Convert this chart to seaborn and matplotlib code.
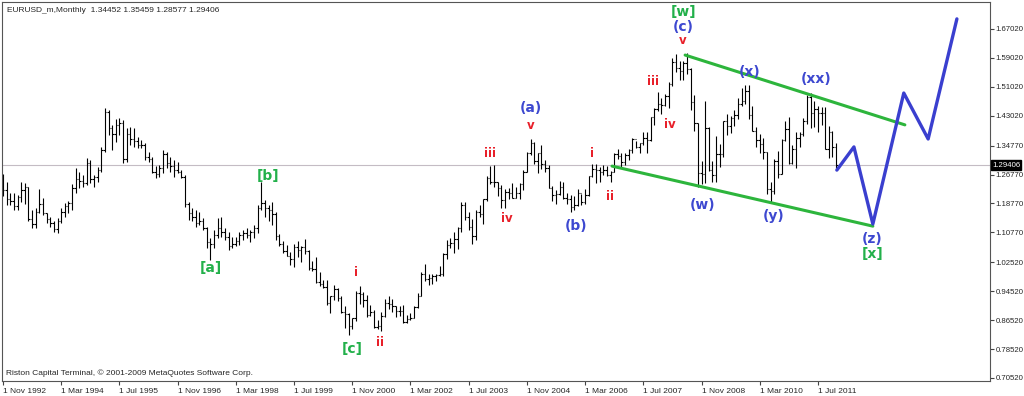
import numpy as np
import pandas as pd
import matplotlib
matplotlib.use("Agg")
import matplotlib.pyplot as plt
import seaborn as sns

# monthly EURUSD bars, 1 Nov 1992 .. 1 Dec 2011
months = pd.date_range("1992-11-01", "2011-12-01", freq="MS")

first_open = 1.240
highs = [
    1.268, 1.248,
    1.216, 1.216, 1.211, 1.246, 1.244, 1.234, 1.170, 1.174, 1.228, 1.202, 1.161, 1.151,  # 1993
    1.138, 1.147, 1.174, 1.188, 1.195, 1.241, 1.285, 1.276, 1.266, 1.313, 1.308, 1.266,  # 1994
    1.289, 1.345, 1.451, 1.446, 1.405, 1.421, 1.423, 1.418, 1.395, 1.400, 1.395, 1.372,  # 1995
    1.363, 1.354, 1.331, 1.317, 1.290, 1.294, 1.336, 1.331, 1.317, 1.308, 1.303, 1.280,  # 1996
    1.267, 1.193, 1.175, 1.170, 1.165, 1.147, 1.124, 1.092, 1.115, 1.147, 1.151, 1.119,  # 1997
    1.110, 1.096, 1.096, 1.110, 1.115, 1.119, 1.115, 1.128, 1.184, 1.248, 1.198, 1.184,  # 1998
    1.1905, 1.1630, 1.1040, 1.0850, 1.0720, 1.0530, 1.0770, 1.0830, 1.0700, 1.0890, 1.0600, 1.0300,  # 1999
    1.0400, 0.9990, 0.9760, 0.9760, 0.9330, 0.9630, 0.9530, 0.9320, 0.9050, 0.8850, 0.8700, 0.9460,  # 2000
    0.9590, 0.9440, 0.9340, 0.9080, 0.8940, 0.8660, 0.8870, 0.9240, 0.9320, 0.9230, 0.9040, 0.9050,  # 2001
    0.9060, 0.8790, 0.8840, 0.9030, 0.9390, 0.9990, 1.0200, 0.9930, 0.9940, 0.9930, 1.0140, 1.0500,  # 2002
    1.0870, 1.0930, 1.1080, 1.1230, 1.1930, 1.1930, 1.1650, 1.1460, 1.1690, 1.1840, 1.1990, 1.2640,  # 2003
    1.2900, 1.2930, 1.2480, 1.2390, 1.2280, 1.2300, 1.2440, 1.2330, 1.2440, 1.2810, 1.3310, 1.3670,  # 2004
    1.3580, 1.3260, 1.3480, 1.3090, 1.2940, 1.2370, 1.2240, 1.2500, 1.2470, 1.2160, 1.2120, 1.2090,  # 2005
    1.2290, 1.2150, 1.2290, 1.2640, 1.2980, 1.2980, 1.2880, 1.2930, 1.2900, 1.2780, 1.3260, 1.3370,  # 2006
    1.3270, 1.3260, 1.3380, 1.3680, 1.3600, 1.3550, 1.3850, 1.3850, 1.4280, 1.4530, 1.4970, 1.4800,  # 2007
    1.4890, 1.5230, 1.5900, 1.6020, 1.5820, 1.5810, 1.6038, 1.5630, 1.4870, 1.4090, 1.3040, 1.4720,  # 2008
    1.4000, 1.3050, 1.3740, 1.3510, 1.4170, 1.4340, 1.4300, 1.4450, 1.4780, 1.5070, 1.5140, 1.5140,  # 2009
    1.4580, 1.3980, 1.3810, 1.3700, 1.3310, 1.2470, 1.3110, 1.3330, 1.3670, 1.4160, 1.4280, 1.3500,  # 2010
    1.3860, 1.3860, 1.4250, 1.4880, 1.4940, 1.4700, 1.4580, 1.4550, 1.4550, 1.4010, 1.3870, 1.3546,  # 2011
]
lows = [
    1.207, 1.184,
    1.184, 1.170, 1.170, 1.193, 1.185, 1.138, 1.119, 1.119, 1.161, 1.156, 1.133, 1.124,
    1.110, 1.105, 1.133, 1.151, 1.161, 1.170, 1.216, 1.230, 1.234, 1.239, 1.243, 1.234,
    1.248, 1.276, 1.331, 1.377, 1.336, 1.359, 1.377, 1.299, 1.303, 1.349, 1.345, 1.340,
    1.340, 1.308, 1.303, 1.271, 1.257, 1.262, 1.271, 1.285, 1.276, 1.262, 1.271, 1.257,
    1.179, 1.142, 1.138, 1.124, 1.128, 1.115, 1.064, 1.032, 1.064, 1.092, 1.096, 1.087,
    1.059, 1.064, 1.069, 1.073, 1.087, 1.092, 1.082, 1.092, 1.106, 1.170, 1.151, 1.138,
    1.1290, 1.0880, 1.0700, 1.0520, 1.0420, 1.0180, 1.0120, 1.0390, 1.0250, 1.0480, 1.0040, 1.0010,
    0.9680, 0.9600, 0.9530, 0.9080, 0.8840, 0.9220, 0.9180, 0.8850, 0.8440, 0.8228, 0.8400, 0.8640,
    0.9090, 0.9010, 0.8750, 0.8770, 0.8440, 0.8400, 0.8350, 0.8730, 0.8960, 0.8890, 0.8750, 0.8760,
    0.8560, 0.8580, 0.8660, 0.8710, 0.9000, 0.9310, 0.9720, 0.9620, 0.9640, 0.9720, 0.9860, 0.9860,
    1.0340, 1.0650, 1.0500, 1.0620, 1.1100, 1.1420, 1.1150, 1.0770, 1.0860, 1.1500, 1.1320, 1.1950,
    1.2410, 1.2340, 1.2080, 1.1760, 1.1760, 1.1990, 1.2030, 1.2030, 1.2010, 1.2240, 1.2740, 1.3220,
    1.2980, 1.2730, 1.2840, 1.2760, 1.2300, 1.1950, 1.1870, 1.2120, 1.1990, 1.1870, 1.1640, 1.1700,
    1.1800, 1.1830, 1.1850, 1.2080, 1.2610, 1.2450, 1.2460, 1.2660, 1.2630, 1.2480, 1.2740, 1.3100,
    1.2870, 1.2930, 1.3090, 1.3280, 1.3410, 1.3270, 1.3500, 1.3260, 1.3600, 1.4050, 1.4440, 1.4360,
    1.4560, 1.4520, 1.5130, 1.5510, 1.5290, 1.5300, 1.5460, 1.4460, 1.3870, 1.2330, 1.2420, 1.2430,
    1.2770, 1.2470, 1.2460, 1.2880, 1.3150, 1.3760, 1.3830, 1.4020, 1.4200, 1.4570, 1.4640, 1.4220,
    1.3870, 1.3440, 1.3280, 1.3110, 1.2140, 1.1880, 1.2150, 1.2590, 1.2680, 1.3600, 1.2970, 1.2970,
    1.2860, 1.3430, 1.3750, 1.4080, 1.3970, 1.4000, 1.3840, 1.4050, 1.3370, 1.3140, 1.3150, 1.2858,
]
closes = [
    1.225, 1.200,
    1.195, 1.180, 1.205, 1.225, 1.232, 1.145, 1.130, 1.165, 1.185, 1.160, 1.145, 1.135,
    1.118, 1.140, 1.165, 1.180, 1.190, 1.230, 1.255, 1.250, 1.245, 1.300, 1.255, 1.260,
    1.280, 1.335, 1.440, 1.395, 1.380, 1.405, 1.410, 1.310, 1.380, 1.365, 1.360, 1.350,
    1.350, 1.315, 1.310, 1.275, 1.270, 1.285, 1.325, 1.300, 1.290, 1.280, 1.275, 1.260,
    1.185, 1.160, 1.150, 1.135, 1.140, 1.120, 1.080, 1.075, 1.100, 1.120, 1.110, 1.095,
    1.070, 1.075, 1.085, 1.100, 1.105, 1.100, 1.108, 1.120, 1.175, 1.190, 1.175, 1.170,
    1.1580, 1.0975, 1.0765, 1.0570, 1.0430, 1.0340, 1.0680, 1.0580, 1.0670, 1.0550, 1.0100, 1.0070,
    0.9710, 0.9650, 0.9570, 0.9120, 0.9330, 0.9520, 0.9260, 0.8870, 0.8830, 0.8500, 0.8710, 0.9390,
    0.9370, 0.9220, 0.8790, 0.8880, 0.8470, 0.8480, 0.8770, 0.9120, 0.9110, 0.9040, 0.8900, 0.8900,
    0.8600, 0.8690, 0.8720, 0.9020, 0.9330, 0.9920, 0.9780, 0.9820, 0.9870, 0.9890, 0.9920, 1.0490,
    1.0730, 1.0780, 1.0900, 1.1190, 1.1830, 1.1510, 1.1240, 1.0990, 1.1650, 1.1580, 1.1990, 1.2590,
    1.2470, 1.2480, 1.2310, 1.1970, 1.2200, 1.2180, 1.2030, 1.2180, 1.2420, 1.2760, 1.3260, 1.3550,
    1.3040, 1.3260, 1.2960, 1.2870, 1.2300, 1.2100, 1.2130, 1.2330, 1.2020, 1.1990, 1.1790, 1.1840,
    1.2160, 1.1920, 1.2120, 1.2630, 1.2820, 1.2790, 1.2760, 1.2810, 1.2670, 1.2760, 1.3250, 1.3200,
    1.3030, 1.3230, 1.3350, 1.3650, 1.3450, 1.3540, 1.3680, 1.3640, 1.4260, 1.4490, 1.4640, 1.4590,
    1.4860, 1.5180, 1.5790, 1.5610, 1.5550, 1.5760, 1.5600, 1.4670, 1.4090, 1.2730, 1.2700, 1.3970,
    1.2800, 1.2670, 1.3250, 1.3240, 1.4150, 1.4030, 1.4250, 1.4330, 1.4640, 1.4720, 1.5000, 1.4320,
    1.3870, 1.3630, 1.3510, 1.3290, 1.2290, 1.2230, 1.3050, 1.2680, 1.3630, 1.3930, 1.2990, 1.3380,
    1.3690, 1.3800, 1.4160, 1.4810, 1.4390, 1.4500, 1.4390, 1.4370, 1.3390, 1.3860, 1.3450, 1.2941,
]
last_price = 1.29406

ytick_values = [1.6702, 1.5902, 1.5102, 1.4302, 1.3477, 1.2677, 1.1877,
                1.1077, 1.0252, 0.9452, 0.8652, 0.7852, 0.7052]
ytick_labels = ["1.67020", "1.59020", "1.51020", "1.43020", "1.34770", "1.26770", "1.18770",
                "1.10770", "1.02520", "0.94520", "0.86520", "0.78520", "0.70520"]

# projected path and channel (bar index, price)
proj_x = [229.2, 233.9, 239.1, 247.6, 254.3, 262.2]
proj_y = [1.280, 1.344, 1.131, 1.493, 1.366, 1.698]
chan_top_x = [187.5, 247.9]
chan_top_y = [1.598, 1.405]
chan_bot_x = [167.4, 239.1]
chan_bot_y = [1.291, 1.125]

# wave labels
GREEN, BLUE, RED = "#22b04a", "#3d48d0", "#e8202a"
lab_text = ["[w]", "(c)", "v", "(x)", "(xx)", "(a)", "v", "iii", "i", "iii", "iv", "ii",
            "iv", "(b)", "[b]", "[a]", "[c]", "i", "ii", "(w)", "(y)", "(z)", "[x]"]
lab_x = [187.2, 186.9, 186.9, 205.3, 223.5, 145.1, 145.1, 133.9, 161.9, 178.7, 183.3, 166.8,
         138.5, 157.5, 72.8, 57.2, 95.9, 97.0, 103.6, 192.4, 211.7, 238.9, 238.9]
lab_y = [1.717, 1.676, 1.637, 1.551, 1.532, 1.452, 1.402, 1.325, 1.327, 1.526, 1.407, 1.206,
         1.145, 1.125, 1.264, 1.009, 0.785, 0.998, 0.802, 1.184, 1.153, 1.090, 1.048]
lab_color = [GREEN, BLUE, RED, BLUE, BLUE, BLUE, RED, RED, RED, RED, RED, RED,
             RED, BLUE, GREEN, GREEN, GREEN, RED, RED, BLUE, BLUE, BLUE, GREEN]

sns.set_style("white")
plt.rcParams['font.family'] = ['Liberation Sans', 'DejaVu Sans']

fig = plt.figure(figsize=(10.24, 3.96), dpi=100)
ax = fig.add_axes([2 / 1024, 15 / 396, 988 / 1024, 379 / 396])

idx = np.arange(len(closes))
opens = [first_open] + closes[:-1]

ax.axhline(last_price, color="#c4bcc4", lw=0.8, zorder=0)

# OHLC bars
ax.vlines(idx, lows, highs, color="black", lw=0.8)
ax.hlines(opens, idx - 0.4, idx, color="black", lw=0.8)
ax.hlines(closes, idx, idx + 0.4, color="black", lw=0.8)

sns.lineplot(x=chan_top_x, y=chan_top_y, color="#2db53c", lw=2.2, estimator=None, sort=False, ax=ax)
sns.lineplot(x=chan_bot_x, y=chan_bot_y, color="#2db53c", lw=2.2, estimator=None, sort=False, ax=ax)
sns.lineplot(x=proj_x, y=proj_y, color="#3a3fcf", lw=2.4, estimator=None, sort=False, ax=ax)

for t, x, y, c in zip(lab_text, lab_x, lab_y, lab_color):
    fs = 8.5 if c == RED else 10
    ax.text(x, y, t, color=c, fontsize=fs, fontweight="bold", ha="center", va="center",
            family="DejaVu Sans")

ax.set_xlim(-0.275, 271.3)
ax.set_ylim(0.6969, 1.7447)

ax.set_xticks(idx[::16])
ax.set_xticklabels([f"1 {m:%b %Y}" for m in months[::16]], ha="left")
ax.yaxis.tick_right()
ax.set_yticks(ytick_values)
ax.set_yticklabels(ytick_labels)
ax.tick_params(axis="x", labelsize=6, length=3, width=0.8, color="#444444", pad=2)
ax.tick_params(axis="y", labelsize=5.6, length=3, width=0.8, color="#444444", pad=1)
ax.tick_params(bottom=True, right=True, left=False, top=False)
for s in ax.spines.values():
    s.set_color("#555555")
    s.set_linewidth(0.8)

ax.text(1.0 + 2 / 988, last_price, f"{last_price:.5f}", transform=ax.get_yaxis_transform(),
        color="white", fontsize=5.6, ha="left", va="center",
        bbox=dict(boxstyle="square,pad=0.15", fc="black", ec="black"))

fig.text(7 / 1024, 1 - 10 / 396, "EURUSD_m,Monthly  1.34452 1.35459 1.28577 1.29406",
         fontsize=6, va="center")
fig.text(6 / 1024, 1 - 373 / 396, "Riston Capital Terminal, © 2001-2009 MetaQuotes Software Corp.",
         fontsize=6, va="center")

fig.savefig("out.png", dpi=100)
